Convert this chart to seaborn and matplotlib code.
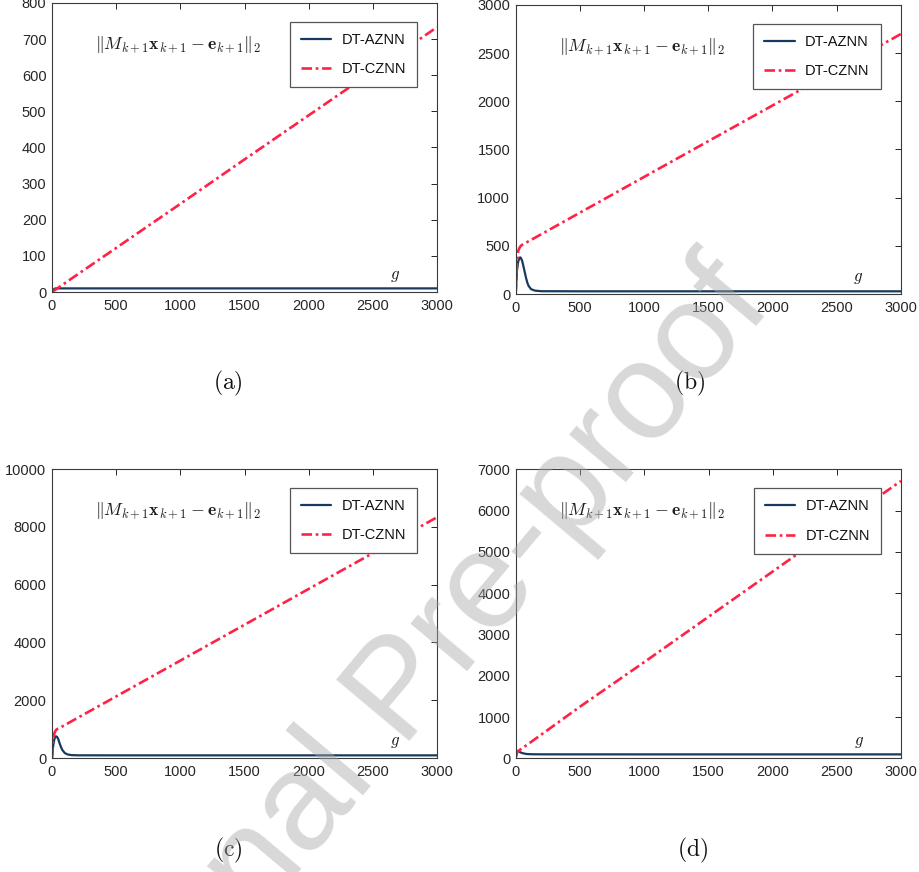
import matplotlib
matplotlib.use("Agg")
import matplotlib.pyplot as plt
import numpy as np
import pandas as pd
import seaborn as sns

# ---------------- data ----------------
models = ["DT-AZNN", "DT-CZNN"]
panel_labels = ["(a)", "(b)", "(c)", "(d)"]
x_ticks = [0, 500, 1000, 1500, 2000, 2500, 3000]

# panel (a)
a_aznn_x = [0, 10, 20, 30, 50, 100, 200, 500, 1000, 1500, 2000, 2500, 3000]
a_aznn_y = [0, 6, 9, 10, 10, 10, 10, 10, 10, 10, 10, 10, 10]
a_cznn_x = [0, 10, 20, 30, 50, 100, 200, 500, 1000, 1500, 2000, 2500, 3000]
a_cznn_y = [0, 2.4, 4.9, 7.3, 12.2, 24.4, 48.9, 122, 244, 367, 489, 611, 733]

# panel (b)
b_aznn_x = [0, 10, 20, 30, 35, 40, 50, 60, 70, 80, 90, 100, 120, 150, 200, 500, 1000, 2000, 3000]
b_aznn_y = [0, 250, 340, 375, 380, 375, 345, 290, 230, 170, 120, 85, 50, 35, 29, 28, 28, 28, 28]
b_cznn_x = [0, 5, 10, 15, 20, 30, 40, 50, 100, 200, 500, 1000, 1500, 2000, 2500, 3000]
b_cznn_y = [0, 150, 300, 400, 450, 480, 500, 510, 547, 621, 844, 1215, 1586, 1956, 2327, 2698]

# panel (c)
c_aznn_x = [0, 10, 20, 30, 40, 50, 60, 70, 80, 100, 120, 150, 200, 500, 1000, 2000, 3000]
c_aznn_y = [0, 450, 680, 750, 730, 640, 500, 380, 280, 170, 125, 100, 93, 92, 92, 92, 92]
c_cznn_x = [0, 5, 10, 15, 20, 30, 40, 50, 100, 200, 500, 1000, 1500, 2000, 2500, 3000]
c_cznn_y = [0, 350, 600, 780, 880, 960, 1000, 1020, 1140, 1390, 2130, 3370, 4610, 5850, 7090, 8330]

# panel (d)
d_aznn_x = [0, 5, 10, 20, 30, 50, 80, 120, 200, 1000, 3000]
d_aznn_y = [60, 150, 180, 170, 150, 125, 105, 98, 96, 95, 95]
d_cznn_x = [0, 10, 100, 500, 1000, 1500, 2000, 2500, 3000]
d_cznn_y = [30, 160, 357, 1253, 2331, 3428, 4524, 5621, 6718]

y_limits = [800, 3000, 10000, 7000]
y_steps = [100, 500, 2000, 1000]

panels = [
    (a_aznn_x, a_aznn_y, a_cznn_x, a_cznn_y),
    (b_aznn_x, b_aznn_y, b_cznn_x, b_cznn_y),
    (c_aznn_x, c_aznn_y, c_cznn_x, c_cznn_y),
    (d_aznn_x, d_aznn_y, d_cznn_x, d_cznn_y),
]

# ---------------- style ----------------
sns.set_theme(style="white")
plt.rcParams["font.family"] = ["Liberation Sans", "DejaVu Sans"]
plt.rcParams["mathtext.fontset"] = "cm"

blue = "#173a5e"
red = "#ff2244"
palette = {models[0]: blue, models[1]: red}
dashes = {models[0]: "", models[1]: (4, 1.4, 1.0, 1.4)}

fig = plt.figure(figsize=(9.19, 8.72), dpi=100)

W, H = 919.0, 872.0
# axes rectangles in pixel coordinates: left, top, right, bottom
rects_px = [
    (52, 3, 437, 292),
    (515.7, 5, 900.7, 294),
    (52, 469, 437, 758),
    (516, 469.3, 901, 758.3),
]
label_pos_px = [(228, 383), (690, 383), (228, 850), (693, 850)]

for i, (ax_x, ax_y, cz_x, cz_y) in enumerate(panels):
    l, t, r, b = rects_px[i]
    ax = fig.add_axes([l / W, 1 - b / H, (r - l) / W, (b - t) / H])
    df = pd.concat([
        pd.DataFrame({"step": ax_x, "value": ax_y, "model": models[0]}),
        pd.DataFrame({"step": cz_x, "value": cz_y, "model": models[1]}),
    ], ignore_index=True)
    sns.lineplot(data=df, x="step", y="value", hue="model", style="model",
                 palette=palette, dashes=dashes, hue_order=models,
                 style_order=models, estimator=None, sort=False,
                 linewidth=1.5, legend=False, ax=ax)
    ax.lines[0].set_linewidth(1.6)
    ax.lines[1].set_linewidth(1.9)
    ax.set_xlim(0, 3000)
    ax.set_ylim(0, y_limits[i])
    ax.set_xticks(x_ticks)
    ax.set_yticks(np.arange(0, y_limits[i] + 1, y_steps[i]))
    ax.set_xlabel("")
    ax.set_ylabel("")
    ax.tick_params(direction="in", top=True, right=True, length=4.5,
                   width=0.7, colors="#262626", labelsize=10.5, pad=4)
    ax.tick_params(axis="x", pad=5)
    for sp in ax.spines.values():
        sp.set_color("#3a3a3a")
        sp.set_linewidth(0.8)
        sp.set_visible(True)

    ax.text(0.112, 0.855,
            r"$\|M_{k+1}\mathbf{x}_{k+1}-\mathbf{e}_{k+1}\|_2$",
            transform=ax.transAxes, ha="left", va="center", fontsize=12.8,
            color="#1a1a1a")
    ax.text(0.89, 0.055, r"$g$", transform=ax.transAxes, ha="center",
            va="center", fontsize=12, color="#1a1a1a")

    leg = ax.legend(handles=ax.lines[:2], labels=models, loc="upper right",
                    bbox_to_anchor=(0.948, 0.934), borderaxespad=0,
                    fontsize=10.5, frameon=True, fancybox=False,
                    framealpha=1, edgecolor="#555555", handlelength=2.1,
                    handletextpad=0.7, labelspacing=1.05, borderpad=0.75)
    leg.get_frame().set_linewidth(0.9)
    for txt in leg.get_texts():
        txt.set_color("#111111")

    lx, ly = label_pos_px[i]
    fig.text(lx / W, 1 - ly / H, r"$\mathrm{" + panel_labels[i] + "}$",
             ha="center", va="center", fontsize=17, color="#111111")

# watermark
fig.text(0.437, 0.205, "Journal Pre-proof", rotation=50, ha="center",
         va="center", fontsize=100, color="#a8a8a8", alpha=0.45, zorder=20)

fig.savefig("out.png", dpi=100)
